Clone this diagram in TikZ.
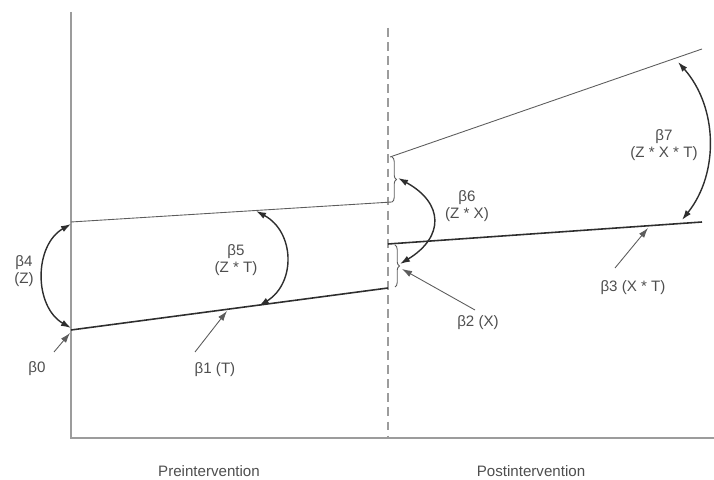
\documentclass[tikz,border=0pt]{standalone}
\usepackage{fontspec}
\setmainfont{Liberation Sans}
\usepackage{tikz}
\usetikzlibrary{arrows.meta,decorations.pathreplacing}
\definecolor{axisgray}{HTML}{9C9C9C}
\definecolor{linedark}{HTML}{2E2E2E}
\definecolor{linegray}{HTML}{5C5C5C}
\definecolor{textgray}{HTML}{4E4E4E}

\begin{document}
\begin{tikzpicture}[x=0.02cm,y=0.02cm,>={Latex[length=2mm,width=1.3mm]},
    font=\fontsize{8.6}{10}\selectfont,
    axisline/.style={axisgray,line width=0.9pt},
    trendline/.style={linedark,line width=0.9pt},
    shiftline/.style={linegray,line width=0.5pt},
    spanarrow/.style={<->,linedark,line width=0.8pt},
    pointer/.style={->,linegray,line width=0.5pt},
    betatext/.style={text=textgray,align=center,inner sep=1pt},
    jumpbrace/.style={linegray,line width=0.5pt,decorate,
      decoration={brace,amplitude=2.5pt}}]
    \useasboundingbox (0,0) rectangle (714,480);

    % Axes and the intervention line.
    \coordinate (origin) at (71,42);
    \coordinate (ytop) at (71,468);
    \coordinate (xend) at (714,42);
    \coordinate (cuttop) at (388,452);
    \coordinate (cutbottom) at (388,42);
    \draw[axisline] (ytop) -- (origin) -- (xend);
    \draw[axisline,dash pattern=on 5pt off 3pt] (cuttop) -- (cutbottom);
    \node[betatext] (pre) at (209,9) {Preintervention};
    \node[betatext] (post) at (531,9) {Postintervention};

    % Control and intervention trends, before and after.
    \coordinate (lowstart) at (71,150);
    \coordinate (lowcut) at (388,192);
    \coordinate (lowjump) at (388,236);
    \coordinate (lowend) at (702,258);
    \coordinate (upstart) at (71,258);
    \coordinate (upcut) at (392,278);
    \coordinate (upjump) at (390,323);
    \coordinate (upend) at (702,431);
    \draw[trendline] (lowstart) -- (lowcut);
    \draw[trendline] (lowjump) -- (lowend);
    \draw[shiftline] (upstart) -- (upcut);
    \draw[shiftline] (upjump) -- (upend);
    \draw[jumpbrace] (392,323) -- (392,278);
    \draw[jumpbrace] (395,235) -- (395,193);

    % Coefficients with a single pointer.
    \node[betatext] (b0) at (37,111) {β0};
    \coordinate (b0tail) at (54,128);
    \draw[pointer] (b0tail) -- (70,147);
    \node[betatext] (b1) at (215,110) {β1 (T)};
    \coordinate (b1tail) at (195,128);
    \draw[pointer] (b1tail) -- (227,169);
    \node[betatext] (b2) at (478,157) {β2 (X)};
    \coordinate (b2tail) at (475,170);
    \draw[pointer] (b2tail) -- (402,211);
    \node[betatext] (b3) at (633,192) {β3 (X * T)};
    \coordinate (b3tail) at (615,212);
    \draw[pointer] (b3tail) -- (648,252);

    % Coefficients spanning two lines.
    \node[betatext] (b4) at (24,209) {β4\\(Z)};
    \draw[spanarrow] (71,256) to[bend right=60,looseness=1.06] (71,152);
    \node[betatext] (b5) at (236,220) {β5\\(Z * T)};
    \draw[spanarrow] (256,269) to[bend left=60,looseness=1.18] (259,174);
    \node[betatext] (b6) at (467,274) {β6\\(Z * X)};
    \draw[spanarrow] (398,302) to[bend left=60,looseness=1.55] (400,216);
    \node[betatext] (b7) at (664,335) {β7\\(Z * X * T)};
    \draw[spanarrow] (678,418) to[bend left=40,looseness=0.97] (682,260);
\end{tikzpicture}
\end{document}
